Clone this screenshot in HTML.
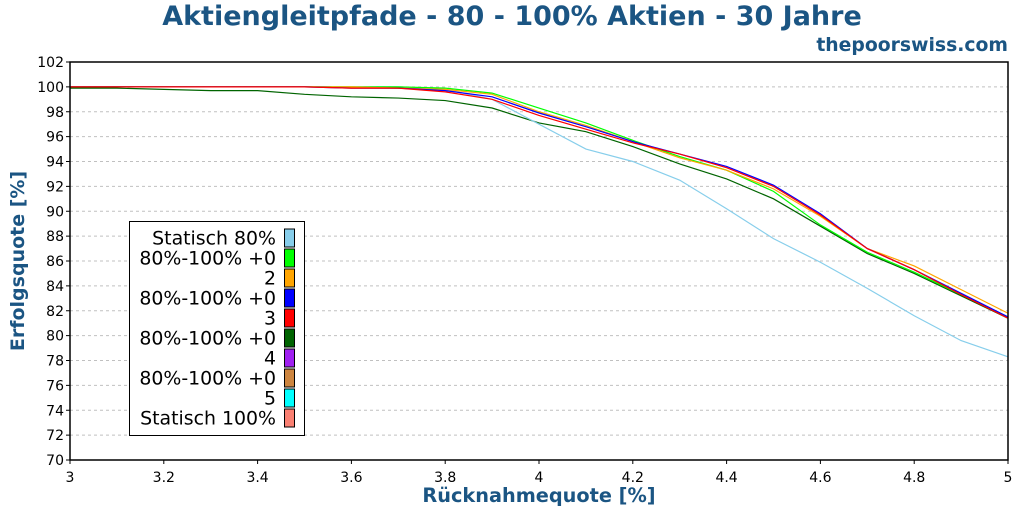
<!DOCTYPE html>
<html><head><meta charset="utf-8"><style>
body{margin:0;background:#fff;font-family:"Liberation Sans","DejaVu Sans",sans-serif}
svg text{font-family:"DejaVu Sans","Liberation Sans",sans-serif}
</style></head><body>
<svg id="c" width="1024" height="512">
<text x="512" y="25" text-anchor="middle" font-size="27" font-weight="bold" fill="#1b5583">Aktiengleitpfade - 80 - 100% Aktien - 30 Jahre</text>
<text x="1008" y="51" text-anchor="end" font-size="18.8" font-weight="bold" fill="#1b5583">thepoorswiss.com</text>
<text x="539" y="502" text-anchor="middle" font-size="19.3" font-weight="bold" fill="#1b5583">Rücknahmequote [%]</text>
<text transform="translate(24,261) rotate(-90)" text-anchor="middle" font-size="19" font-weight="bold" fill="#1b5583">Erfolgsquote [%]</text>
<g id="grid"></g><g id="series"></g><g id="axes"></g><g id="legend"></g>
</svg>
<script>
const xs=[3.0,3.1,3.2,3.3,3.4,3.5,3.6,3.7,3.8,3.9,4.0,4.1,4.2,4.3,4.4,4.5,4.6,4.7,4.8,4.9,5.0];
const statisch80=[100,100,100,100,100,100,100,100,99.8,99.0,97.0,95.0,94.0,92.5,90.2,87.8,85.9,83.8,81.6,79.6,78.3];
const glide0=[100,100,100,100,100,100,100,100,99.9,99.5,98.3,97.1,95.7,94.4,93.3,91.6,88.9,86.7,85.1,83.3,81.5];
const glide2=[100,100,100,100,100,100,100,99.9,99.8,99.4,98.0,96.9,95.6,94.3,93.3,91.8,89.6,87.0,85.6,83.7,81.8];
const glide3=[100,100,100,100,100,100,99.9,99.9,99.7,99.2,97.9,96.8,95.6,94.6,93.6,92.1,89.8,87.0,85.3,83.4,81.5];
const glide4=[100,100,100,100,100,100,99.9,99.9,99.6,99.0,97.7,96.6,95.5,94.6,93.5,92.0,89.7,87.0,85.3,83.3,81.4];
const statisch100=[99.9,99.9,99.8,99.7,99.7,99.4,99.2,99.1,98.9,98.3,97.1,96.4,95.2,93.8,92.6,91.0,88.8,86.6,85.0,83.2,81.4];
const xTicks=[3,3.2,3.4,3.6,3.8,4,4.2,4.4,4.6,4.8,5];
const yTicks=[70,72,74,76,78,80,82,84,86,88,90,92,94,96,98,100,102];
const legendLabels=["Statisch 80%","80%-100% +0","2","80%-100% +0","3","80%-100% +0","4","80%-100% +0","5","Statisch 100%"];
const legendColors=["#87ceeb","#00ff00","#ffa500","#0000ff","#ff0000","#006400","#a020f0","#cd853f","#00ffff","#fa8072"];
const X0=70,X1=1008,Y0=460,Y1=62;
const sx=v=>X0+(v-3)/2*(X1-X0), sy=v=>Y0-(v-70)/32*(Y0-Y1);
const NS="http://www.w3.org/2000/svg";
function mk(t,a,p){const e=document.createElementNS(NS,t);for(const k in a)e.setAttribute(k,a[k]);p.appendChild(e);return e;}
const grid=document.getElementById('grid'),axes=document.getElementById('axes'),ser=document.getElementById('series'),leg=document.getElementById('legend');
yTicks.forEach(v=>{
 const l=mk('line',{x1:X0,x2:X1,y1:sy(v),y2:sy(v),stroke:'#c0c0c0','stroke-dasharray':'3,3'},grid);
 
 
 const t=mk('text',{x:X0-6,y:sy(v)+5,'text-anchor':'end','font-size':14},axes);t.textContent=v;
 
 
 mk('line',{x1:X0-4,x2:X0,y1:sy(v),y2:sy(v),stroke:'#000'},axes);
});
xTicks.forEach(v=>{
 const t=mk('text',{x:sx(v),y:Y0+22,'text-anchor':'middle','font-size':14},axes);t.textContent=v;
 
 
 mk('line',{x1:sx(v),x2:sx(v),y1:Y0,y2:Y0+4,stroke:'#000'},axes);
});
const fr=mk('rect',{x:X0,y:Y1,width:X1-X0,height:Y0-Y1,fill:'none',stroke:'#000','stroke-width':1.5},axes);


const seriesList=[[statisch100,'#006400'],[statisch80,'#87ceeb'],[glide0,'#00ff00'],[glide2,'#ffa500'],[glide3,'#0000ff'],[glide4,'#ff0000']];
const names=['line-statisch-100','line-statisch-80','line-glide-0','line-glide-2','line-glide-3','line-glide-4'];
seriesList.forEach((s,i)=>{
 const p=mk('polyline',{points:xs.map((x,j)=>sx(x)+','+sy(s[0][j])).join(' '),fill:'none',stroke:s[1],'stroke-width':1.2},ser);
 
 
});
const lb=mk('rect',{x:129.5,y:221.5,width:175,height:214,fill:'#fff',stroke:'#000'},leg);


legendLabels.forEach((l,i)=>{
 const y=238+i*20;
 const t=mk('text',{x:276,y:y+6.5,'text-anchor':'end','font-size':18.9},leg);t.textContent=l;
 
 
 const r=mk('rect',{x:284.5,y:y-9,width:10,height:18,fill:legendColors[i],stroke:'#000'},leg);
 
 
});
</script>
</body></html>
